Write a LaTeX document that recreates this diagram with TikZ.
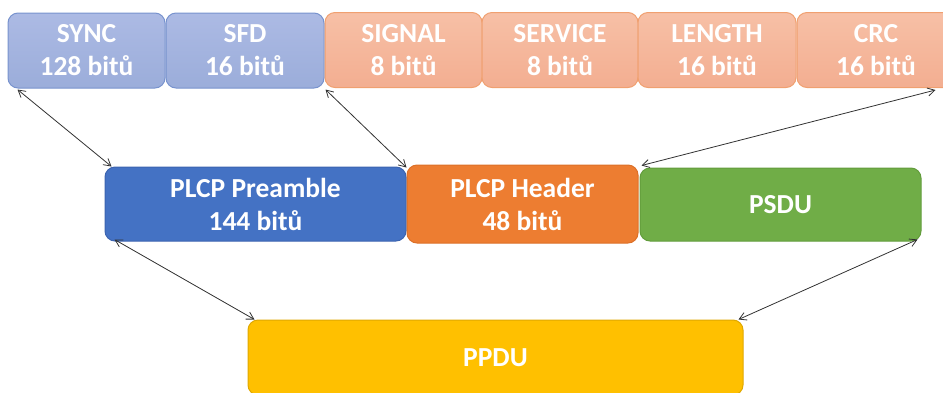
\documentclass[tikz,border=0pt]{standalone}
\usepackage{fontspec}
\setmainfont{Carlito}
\usetikzlibrary{arrows.meta}
\definecolor{subblueA}{RGB}{172,186,228}
\definecolor{subblueB}{RGB}{155,173,218}
\definecolor{subblueLine}{RGB}{120,147,206}
\definecolor{suborA}{RGB}{247,192,166}
\definecolor{suborB}{RGB}{243,174,145}
\definecolor{suborLine}{RGB}{240,160,112}
\definecolor{preBlue}{RGB}{68,114,196}
\definecolor{preLine}{RGB}{60,100,176}
\definecolor{hdrOrange}{RGB}{237,125,49}
\definecolor{hdrLine}{RGB}{220,112,40}
\definecolor{psduGreen}{RGB}{112,173,71}
\definecolor{psduLine}{RGB}{98,156,60}
\definecolor{ppduGold}{RGB}{255,192,0}
\definecolor{ppduLine}{RGB}{224,168,0}
\definecolor{connGray}{RGB}{50,50,50}
\begin{document}
\begin{tikzpicture}[x=1pt,y=-1pt,
  field/.style={rectangle, rounded corners=10pt, line width=1pt, inner sep=0pt,
    align=center, text=white, font=\fontsize{27.5}{33}\selectfont\bfseries},
  subblue/.style={field, draw=subblueLine, top color=subblueA, bottom color=subblueB,
    minimum height=75pt},
  subor/.style={field, draw=suborLine, top color=suborA, bottom color=suborB,
    minimum height=75pt},
  conn/.style={draw=connGray, line width=0.8pt, {Straight Barb[length=7pt,width=8pt]}-{Straight Barb[length=7pt,width=8pt]}}]
\useasboundingbox (0,0) rectangle (943,392);
% top row: sub-fields of preamble and header
\node[subblue, minimum width=157pt] (sync) at (86.5,50.5) {SYNC\\128 bitů};
\node[subblue, minimum width=158pt] (sfd) at (245,50.5) {SFD\\16 bitů};
\node[subor, minimum width=157pt] (signal) at (403.5,50) {SIGNAL\\8 bitů};
\node[subor, minimum width=156pt] (service) at (560,50) {SERVICE\\8 bitů};
\node[subor, minimum width=158pt] (length) at (717,50) {LENGTH\\16 bitů};
\node[subor, minimum width=158pt] (crc) at (876,50) {CRC\\16 bitů};
% middle row
\node[field, draw=preLine, fill=preBlue, minimum width=301pt, minimum height=74pt] (pre) at (255.5,204) {PLCP Preamble\\144 bitů};
\node[field, draw=hdrLine, fill=hdrOrange, minimum width=231pt, minimum height=78pt] (hdr) at (522.5,204) {PLCP Header\\48 bitů};
\node[field, draw=psduLine, fill=psduGreen, minimum width=281pt, minimum height=73pt] (psdu) at (780.5,204.5) {PSDU};
% bottom
\node[field, draw=ppduLine, fill=ppduGold, minimum width=495pt, minimum height=75pt] (ppdu) at (495.5,357.5) {PPDU};
% connectors
\draw[conn] ([shift={(10pt,-1pt)}]sync.south west) -- ([shift={(7pt,0pt)}]pre.north west);
\draw[conn] ([shift={(1pt,-1pt)}]sfd.south east) -- ([shift={(0pt,-1pt)}]pre.north east);
\draw[conn] ([shift={(-20pt,-2pt)}]crc.south east) -- ([shift={(3pt,-1pt)}]hdr.north east);
\draw[conn] ([shift={(10pt,2pt)}]pre.south west) -- ([shift={(7pt,0pt)}]ppdu.north west);
\draw[conn] ([shift={(-4pt,2pt)}]psdu.south east) -- ([shift={(-5pt,0pt)}]ppdu.north east);
\end{tikzpicture}
\end{document}
